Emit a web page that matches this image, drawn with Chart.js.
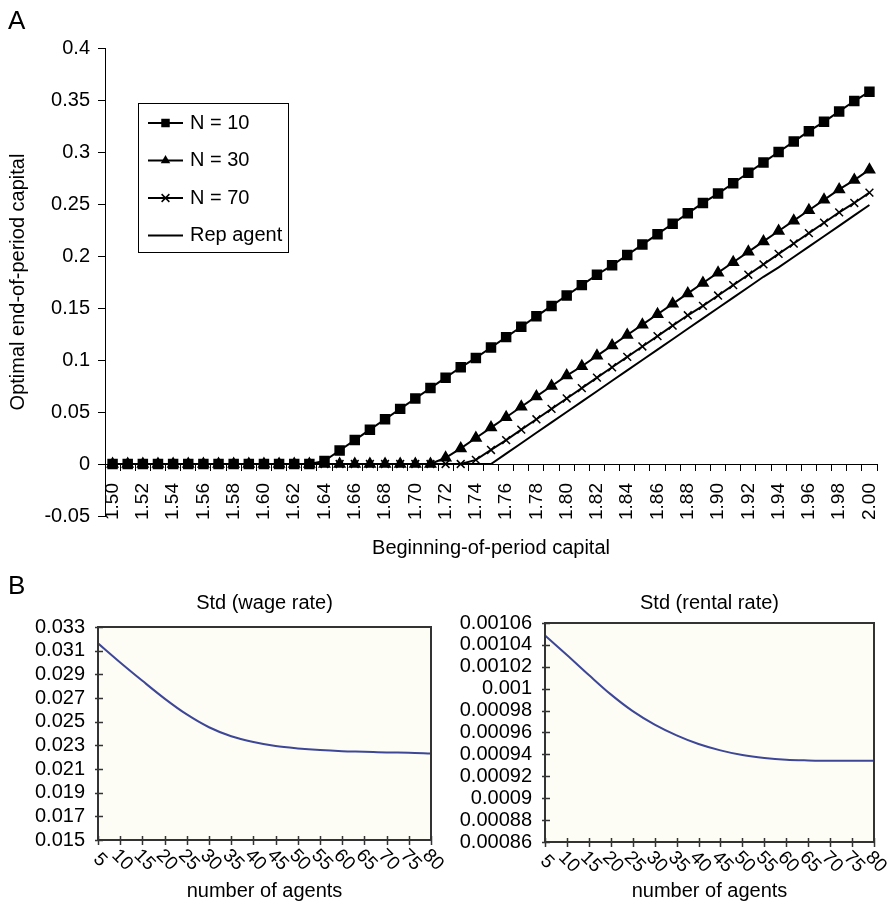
<!DOCTYPE html>
<html>
<head>
<meta charset="utf-8">
<script src="https://cdn.jsdelivr.net/npm/chart.js@4.4.0/dist/chart.umd.min.js"></script>
<style>
  body { margin: 0; background: #fff; font-family: "Liberation Sans", Arial, sans-serif; }
  #page { position: relative; width: 888px; height: 910px; overflow: hidden; }
  .panel { position: absolute; font-size: 26px; line-height: 1; color: #000; }
  canvas { position: absolute; }
</style>
</head>
<body>
<div id="page">
  <canvas id="chartA" width="888" height="566" style="left:0; top:0"></canvas>
  <canvas id="chartWage" width="444" height="340" style="left:0; top:570px"></canvas>
  <canvas id="chartRental" width="444" height="340" style="left:444px; top:570px"></canvas>
  <div class="panel" style="left:8px; top:7px">A</div>
  <div class="panel" style="left:8px; top:572px">B</div>
</div>
<script>
// Panel A: policy functions
const capital = ["1.50", "1.51", "1.52", "1.53", "1.54", "1.55", "1.56", "1.57", "1.58", "1.59",
  "1.60", "1.61", "1.62", "1.63", "1.64", "1.65", "1.66", "1.67", "1.68", "1.69",
  "1.70", "1.71", "1.72", "1.73", "1.74", "1.75", "1.76", "1.77", "1.78", "1.79",
  "1.80", "1.81", "1.82", "1.83", "1.84", "1.85", "1.86", "1.87", "1.88", "1.89",
  "1.90", "1.91", "1.92", "1.93", "1.94", "1.95", "1.96", "1.97", "1.98", "1.99", "2.00"];

const n10 = [0, 0, 0, 0, 0, 0, 0, 0, 0, 0,
  0, 0, 0, 0, 0.003, 0.013, 0.023, 0.033, 0.043, 0.053,
  0.063, 0.073, 0.083, 0.093, 0.102, 0.112, 0.122, 0.132, 0.142, 0.152,
  0.162, 0.172, 0.182, 0.191, 0.201, 0.211, 0.221, 0.231, 0.241, 0.251,
  0.260, 0.270, 0.280, 0.290, 0.300, 0.310, 0.320, 0.329, 0.339, 0.349, 0.358];

const n30 = [0, 0, 0, 0, 0, 0, 0, 0, 0, 0,
  0, 0, 0, 0, 0, 0, 0, 0, 0, 0,
  0, 0, 0.006, 0.015, 0.025, 0.035, 0.045, 0.055, 0.065, 0.075,
  0.085, 0.094, 0.104, 0.114, 0.124, 0.134, 0.144, 0.154, 0.164, 0.174,
  0.184, 0.194, 0.204, 0.214, 0.224, 0.234, 0.244, 0.254, 0.264, 0.273, 0.283];

const n70 = [0, 0, 0, 0, 0, 0, 0, 0, 0, 0,
  0, 0, 0, 0, 0, 0, 0, 0, 0, 0,
  0, 0, 0, 0, 0.004, 0.0135, 0.023, 0.033, 0.043, 0.053,
  0.063, 0.073, 0.083, 0.093, 0.103, 0.113, 0.123, 0.133, 0.143, 0.152,
  0.162, 0.172, 0.182, 0.192, 0.202, 0.212, 0.222, 0.232, 0.242, 0.251, 0.261];

const repAgent = [0, 0, 0, 0, 0, 0, 0, 0, 0, 0,
  0, 0, 0, 0, 0, 0, 0, 0, 0, 0,
  0, 0, 0, 0, 0, 0, 0.010, 0.020, 0.030, 0.040,
  0.050, 0.060, 0.070, 0.080, 0.090, 0.100, 0.110, 0.120, 0.130, 0.140,
  0.150, 0.160, 0.170, 0.180, 0.189, 0.199, 0.209, 0.219, 0.229, 0.239, 0.249];

// Panel B: std of factor prices by number of agents
const agents = [5, 10, 15, 20, 25, 30, 35, 40, 45, 50, 55, 60, 65, 70, 75, 80];
const wageStd = [0.03162, 0.03000, 0.02845, 0.02695, 0.02561, 0.02453, 0.02377, 0.02328,
  0.02294, 0.02274, 0.02260, 0.02251, 0.02246, 0.02240, 0.02238, 0.02232];
const rentalStd = [0.0010486, 0.0010308, 0.0010125, 0.0009948, 0.0009795, 0.0009672, 0.0009574, 0.0009495,
  0.0009437, 0.0009394, 0.0009367, 0.0009351, 0.0009345, 0.0009342, 0.0009342, 0.0009342];

Chart.defaults.font.family = '"Liberation Sans", Arial, sans-serif';
Chart.defaults.color = "#000";

const fmt = (v) => String(Number(Number(v).toFixed(6)));

function drawMarker(ctx, style, r, x, y) {
  ctx.fillStyle = "#000";
  ctx.strokeStyle = "#000";
  if (style === "rect") {
    const s = r * Math.SQRT1_2;
    ctx.fillRect(x - s, y - s, 2 * s, 2 * s);
  } else if (style === "triangle") {
    ctx.beginPath();
    ctx.moveTo(x, y - r);
    ctx.lineTo(x + r * 0.866, y + r / 2);
    ctx.lineTo(x - r * 0.866, y + r / 2);
    ctx.closePath();
    ctx.fill();
  } else if (style === "crossRot") {
    const s = r * Math.SQRT1_2;
    ctx.lineWidth = 1.5;
    ctx.beginPath();
    ctx.moveTo(x - s, y - s);
    ctx.lineTo(x + s, y + s);
    ctx.moveTo(x - s, y + s);
    ctx.lineTo(x + s, y - s);
    ctx.stroke();
  }
}

// boxed legend sitting inside the plot, top left
const legendBox = {
  id: "legendBox",
  afterDraw(chart) {
    const ctx = chart.ctx;
    const left = 138, top = 103, w = 150, h = 149;
    ctx.save();
    ctx.fillStyle = "#fff";
    ctx.fillRect(left, top, w, h);
    ctx.strokeStyle = "#000";
    ctx.lineWidth = 1;
    ctx.strokeRect(left + 0.5, top + 0.5, w, h);
    chart.data.datasets.forEach((ds, i) => {
      const y = top + 20 + i * 37.5;
      ctx.strokeStyle = "#000";
      ctx.lineWidth = 2;
      ctx.beginPath();
      ctx.moveTo(left + 10, y);
      ctx.lineTo(left + 45, y);
      ctx.stroke();
      if (ds.pointRadius > 0) drawMarker(ctx, ds.pointStyle, ds.pointRadius, left + 27.5, y);
      ctx.fillStyle = "#000";
      ctx.font = '20px "Liberation Sans", Arial, sans-serif';
      ctx.textBaseline = "middle";
      ctx.textAlign = "left";
      ctx.fillText(ds.label, left + 52, y);
    });
    ctx.restore();
  },
};

new Chart(document.getElementById("chartA"), {
  type: "line",
  data: {
    labels: capital,
    datasets: [
      { label: "N = 10", data: n10, pointStyle: "rect", pointRadius: 6 },
      { label: "N = 30", data: n30, pointStyle: "triangle", pointRadius: 5.5 },
      { label: "N = 70", data: n70, pointStyle: "crossRot", pointRadius: 5.5, pointBorderWidth: 1.5 },
      { label: "Rep agent", data: repAgent, pointRadius: 0 },
    ].map((d) => Object.assign({
      borderColor: "#000", backgroundColor: "#000",
      pointBackgroundColor: "#000", pointBorderColor: "#000",
      borderWidth: 2, tension: 0,
    }, d)),
  },
  options: {
    responsive: false,
    animation: false,
    layout: { padding: { top: 48, right: 11, bottom: 50, left: 0 } },
    plugins: { legend: { display: false }, tooltip: { enabled: false } },
    scales: {
      x: {
        position: { y: 0 },
        offset: true,
        grid: { drawOnChartArea: false, tickLength: 6, offset: true, color: "#000" },
        border: { color: "#000", width: 1 },
        ticks: {
          autoSkip: false, minRotation: 90, maxRotation: 90, padding: 13,
          font: { size: 19 },
          callback: function (v, i) { return i % 2 === 0 ? this.getLabelForValue(v) : ""; },
        },
        title: { display: true, text: "Beginning-of-period capital", font: { size: 20 }, padding: { top: 4, bottom: 0 } },
        afterFit: (s) => { s.paddingLeft = 0; s.paddingRight = 0; },
      },
      y: {
        min: -0.05,
        max: 0.4,
        ticks: { stepSize: 0.05, autoSkip: false, padding: 8, font: { size: 20 }, callback: fmt },
        grid: { drawOnChartArea: false, tickLength: 7, color: "#000" },
        border: { color: "#000", width: 1 },
        title: { display: true, text: "Optimal end-of-period capital", font: { size: 20 }, padding: { top: 6, bottom: 0 } },
        afterFit: (s) => { s.width = 105; },
      },
    },
  },
  plugins: [legendBox],
});

// framed plot area with crossing ticks and slanted x labels (panel B)
const plotFrame = {
  id: "plotFrame",
  beforeDraw(chart) {
    const { ctx, chartArea: a } = chart;
    ctx.save();
    ctx.fillStyle = "#fdfdf5";
    ctx.fillRect(a.left, a.top, a.right - a.left, a.bottom - a.top);
    ctx.restore();
  },
  afterDraw(chart) {
    const { ctx, chartArea: a, scales } = chart;
    ctx.save();
    ctx.strokeStyle = "#333";
    ctx.lineWidth = 2;
    ctx.strokeRect(a.left, a.top, a.right - a.left, a.bottom - a.top);
    ctx.lineWidth = 1.5;
    ctx.beginPath();
    scales.y.ticks.forEach((t) => {
      const py = Math.round(scales.y.getPixelForValue(t.value)) + 0.5;
      ctx.moveTo(a.left - 3, py);
      ctx.lineTo(a.left + 5, py);
    });
    scales.x.ticks.forEach((t) => {
      const px = Math.round(scales.x.getPixelForValue(t.value)) + 0.5;
      ctx.moveTo(px, a.bottom - 4);
      ctx.lineTo(px, a.bottom + 5);
    });
    ctx.stroke();
    ctx.fillStyle = "#000";
    ctx.font = '19px "Liberation Sans", Arial, sans-serif';
    ctx.textAlign = "center";
    ctx.textBaseline = "middle";
    scales.x.ticks.forEach((t) => {
      const px = scales.x.getPixelForValue(t.value);
      ctx.save();
      ctx.translate(px + 2, a.bottom + 20);
      ctx.rotate(Math.PI / 4);
      ctx.fillText(String(t.value), 0, 0);
      ctx.restore();
    });
    ctx.restore();
  },
};

function stdChart(id, title, values, yMin, yMax, yStep, pad, yWidth, titleGap, xHeight) {
  return new Chart(document.getElementById(id), {
    type: "line",
    data: {
      datasets: [{
        label: title,
        data: agents.map((n, i) => ({ x: n, y: values[i] })),
        borderColor: "#3d4796",
        backgroundColor: "#3d4796",
        borderWidth: 2,
        pointRadius: 0,
        cubicInterpolationMode: "monotone",
      }],
    },
    options: {
      responsive: false,
      animation: false,
      layout: { padding: pad },
      plugins: {
        legend: { display: false },
        tooltip: { enabled: false },
        title: {
          display: true, fullSize: false, text: title, font: { size: 20, weight: "normal" }, color: "#000",
          padding: { top: 21, bottom: titleGap },
        },
      },
      scales: {
        x: {
          type: "linear",
          min: 5,
          max: 80,
          ticks: { display: false, stepSize: 5 },
          grid: { display: false, drawTicks: false },
          border: { display: false },
          title: { display: true, text: "number of agents", font: { size: 20 }, padding: { top: 0, bottom: 7 } },
          afterFit: (s) => { s.height = xHeight; },
        },
        y: {
          min: yMin,
          max: yMax,
          ticks: { stepSize: yStep, autoSkip: false, padding: 13, font: { size: 20 }, callback: fmt },
          grid: { display: false, drawTicks: false },
          border: { display: false },
          afterFit: (s) => { s.width = yWidth; },
        },
      },
    },
    plugins: [plotFrame],
  });
}

stdChart("chartWage", "Std (wage rate)", wageStd, 0.015, 0.033, 0.002,
  { top: 0, right: 13, bottom: 0, left: 0 }, 98, 12, 70);
stdChart("chartRental", "Std (rental rate)", rentalStd, 0.00086, 0.00106, 0.00002,
  { top: 0, right: 14, bottom: 0, left: 0 }, 101, 8, 68);
</script>
</body>
</html>
